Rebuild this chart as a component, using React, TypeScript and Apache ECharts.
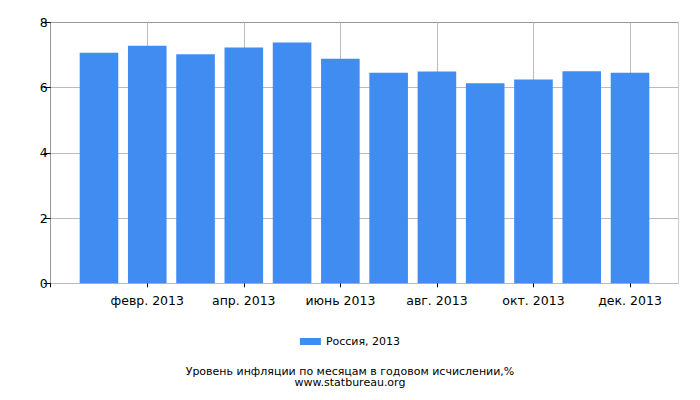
import React, { useEffect, useRef } from "react";
import * as echarts from "echarts";

const months = [
  "",
  "янв. 2013",
  "февр. 2013",
  "март 2013",
  "апр. 2013",
  "май 2013",
  "июнь 2013",
  "июль 2013",
  "авг. 2013",
  "сент. 2013",
  "окт. 2013",
  "нояб. 2013",
  "дек. 2013",
  "",
];
const russia2013 = [null, 7.07, 7.28, 7.02, 7.23, 7.38, 6.88, 6.45, 6.49, 6.13, 6.25, 6.5, 6.45, null];
const seriesName = "Россия, 2013";
const titleLines = ["Уровень инфляции по месяцам в годовом исчислении,%", "www.statbureau.org"];

const FONT = "DejaVu Sans";

export default function App() {
  const ref = useRef<HTMLDivElement>(null);
  useEffect(() => {
    if (!ref.current) return;
    const chart = echarts.init(ref.current, null, { renderer: "svg" });
    chart.setOption({
      animation: false,
      textStyle: { fontFamily: FONT },
      grid: { left: 50.7, right: 21.7, top: 22.3, bottom: 116.7, containLabel: false },
      graphic: titleLines.map((t, i) => ({
        type: "text",
        left: "center",
        top: 365.5 + i * 11.5,
        style: { text: t, fontFamily: FONT, fontSize: 11, fill: "#000" },
      })),
      legend: {
        data: [seriesName],
        top: 331,
        left: "center",
        itemWidth: 21,
        itemHeight: 7,
        itemGap: 5,
        icon: "rect",
        textStyle: { fontFamily: FONT, fontSize: 11, color: "#000" },
      },
      xAxis: {
        type: "category",
        data: months,
        boundaryGap: false,
        axisLine: { lineStyle: { color: "#bbb", width: 1 } },
        axisTick: {
          show: true,
          length: 4,
          lineStyle: { color: "#000" },
          interval: (i: number) => i % 2 === 0 && i < 13,
        },
        axisLabel: {
          interval: (i: number) => i % 2 === 0 && i > 0 && i < 13,
          fontFamily: FONT,
          fontSize: 12.5,
          color: "#000",
          margin: 11,
        },
        splitLine: {
          show: true,
          interval: (i: number) => (i % 2 === 0 && i > 0) || i === 13,
          lineStyle: { color: ["#bbb", "#bbb", "#bbb", "#bbb", "#bbb", "#bbb", "#ccc"], width: 1 },
        },
      },
      yAxis: {
        type: "value",
        min: 0,
        max: 8,
        interval: 2,
        axisLine: { show: true, lineStyle: { color: "#999" } },
        axisTick: { show: true, length: 7, lineStyle: { color: "#000" } },
        axisLabel: { fontFamily: FONT, fontSize: 12.5, color: "#000", margin: 3 },
        splitLine: {
          show: true,
          lineStyle: { color: ["#bbb", "#bbb", "#bbb", "#bbb", "#999"], width: 1 },
        },
      },
      series: [
        {
          name: seriesName,
          type: "bar",
          data: russia2013,
          barWidth: 38.6,
          itemStyle: { color: "#418cf0" },
        },
      ],
    });
    return () => chart.dispose();
  }, []);
  return <div ref={ref} style={{ width: 700, height: 400, position: "absolute", left: 0, top: 0 }} />;
}
